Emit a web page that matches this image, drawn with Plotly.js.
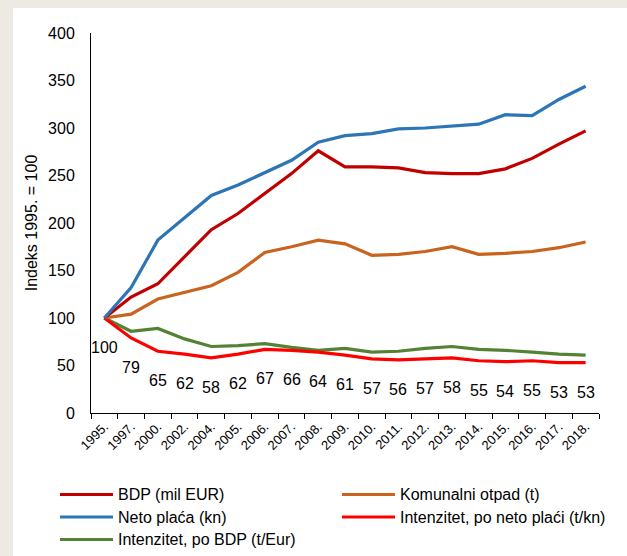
<!DOCTYPE html>
<html>
<head>
<meta charset="utf-8">
<script src="https://cdn.plot.ly/plotly-3.0.1.min.js"></script>
<style>
  html, body { margin: 0; padding: 0; background: #EDE9E3; width: 627px; height: 556px; overflow: hidden; }
  #chart { position: absolute; left: 13px; top: 8px; width: 614px; height: 548px; background: #ffffff; }
</style>
</head>
<body>
<div id="chart"></div>
<script>
// ---- data ----
var years = ['1995.','1997.','2000.','2002.','2004.','2005.','2006.','2007.','2008.','2009.','2010.','2011.','2012.','2013.','2014.','2015.','2016.','2017.','2018.'];
var bdp = [100,122,136,164,193,210,231,252,276,259,259,258,253,252,252,257,268,283,297];
var otpad = [100,104,120,127,134,148,169,175,182,178,166,167,170,175,167,168,170,174,180];
var netoPlaca = [100,132,182,205,229,240,253,266,285,292,294,299,300,302,304,314,313,330,344];
var intNeto = [100,79,65,62,58,62,67,66,64,61,57,56,57,58,55,54,55,53,53];
var intBdp = [100,86,89,78,70,71,73,69,66,68,64,65,68,70,67,66,64,62,61];

var seriesNames = ['BDP (mil EUR)','Komunalni otpad (t)','Neto plaća (kn)','Intenzitet, po neto plaći (t/kn)','Intenzitet, po BDP (t/Eur)'];
var seriesValues = [bdp, otpad, netoPlaca, intNeto, intBdp];
var seriesColors = ['#C00000','#C8641E','#2E75B6','#FF0000','#548235'];

var FONT = 'Liberation Sans, Arial, sans-serif';

var drawOrder = [4,3,1,0,2];
var traces = drawOrder.map(function(i){
  return {
    type: 'scatter', mode: 'lines', x: years, y: seriesValues[i], name: seriesNames[i],
    line: {color: seriesColors[i], width: 3.2}, showlegend: false, hoverinfo: 'skip'
  };
});

// data labels for intenzitet po neto plaći (x given as category index)
var annotations = intNeto.map(function(v, k){
  return {x: k, y: v, xref: 'x', yref: 'y', text: String(v), showarrow: false,
          yshift: -29.5, font: {family: FONT, size: 16, color: '#000000'}};
});

// manual legend (pixel positions relative to page)
function px(X){ return (X - 91) / 508; }
function py(Y){ return (413 - Y) / 380; }
var legendSlots = [[60, 494.5],[342, 494.5],[60, 517],[342, 517],[60, 539.5]];
var shapes = [];
seriesNames.forEach(function(n, i){
  var s = legendSlots[i];
  shapes.push({type: 'line', xref: 'paper', yref: 'paper', x0: px(s[0]), x1: px(s[0] + 53), y0: py(s[1]), y1: py(s[1]),
               line: {color: seriesColors[i], width: 3}});
  annotations.push({xref: 'paper', yref: 'paper', x: px(s[0] + 56), y: py(s[1]), xanchor: 'left', yanchor: 'middle',
                    text: n, showarrow: false, font: {family: FONT, size: 16, color: '#000000'}});
});

var layout = {
  width: 614, height: 548,
  margin: {l: 78, r: 28, t: 25, b: 143},
  paper_bgcolor: '#ffffff', plot_bgcolor: '#ffffff',
  font: {family: FONT, color: '#000000'},
  showlegend: false,
  xaxis: {
    type: 'category', range: [-0.5, years.length - 0.5], autorange: false,
    tickson: 'boundaries', ticks: 'outside', ticklen: 5, tickcolor: '#000000',
    showline: true, linecolor: '#000000', linewidth: 1, showgrid: false, zeroline: false,
    tickangle: -45, tickfont: {family: FONT, size: 13, color: '#000000'}, fixedrange: true
  },
  yaxis: {
    range: [0, 400], autorange: false, dtick: 50, tick0: 0, ticks: '', showline: true, linecolor: '#000000', linewidth: 1,
    showgrid: false, zeroline: false, ticklabelstandoff: 12,
    tickfont: {family: FONT, size: 16, color: '#000000'},
    title: {text: 'Indeks 1995. = 100', font: {family: FONT, size: 16, color: '#000000'}, standoff: 6},
    fixedrange: true
  },
  annotations: annotations,
  shapes: shapes,
  hovermode: false
};

Plotly.newPlot('chart', traces, layout, {displayModeBar: false, staticPlot: true});
</script>
</body>
</html>
